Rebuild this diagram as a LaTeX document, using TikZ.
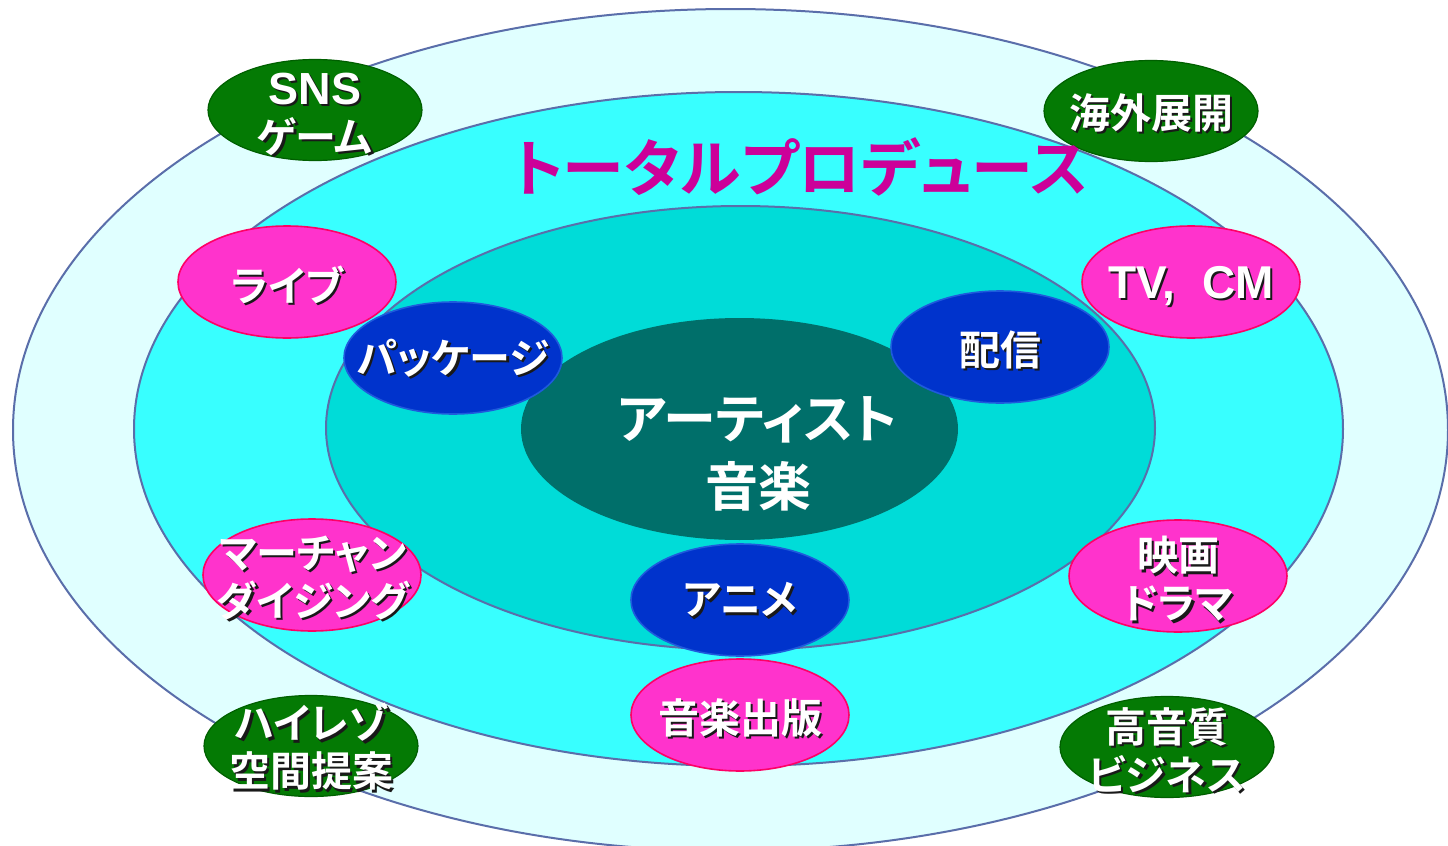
\documentclass[tikz,border=0pt]{standalone}
\usepackage{fontspec}
\usetikzlibrary{shapes.geometric}
\newfontfamily\jp{Noto Sans CJK JP}[BoldFont={Noto Sans CJK JP Bold},RawFeature=+palt]
\newfontfamily\lat{Liberation Sans}
\definecolor{ringc}{RGB}{90,110,170}
\definecolor{cA}{RGB}{224,255,255}
\definecolor{cB}{RGB}{56,255,255}
\definecolor{cC}{RGB}{0,220,216}
\definecolor{cD}{RGB}{0,111,106}
\definecolor{gfill}{RGB}{4,122,4}
\definecolor{gedge}{RGB}{0,95,0}
\definecolor{pfill}{RGB}{255,51,204}
\definecolor{pedge}{RGB}{255,0,102}
\definecolor{bfill}{RGB}{0,51,204}
\definecolor{bedge}{RGB}{30,90,220}
\definecolor{ttlc}{RGB}{204,0,153}
\tikzset{
  ringline/.style={draw=ringc, line width=1pt},
  oval/.style={ellipse, inner sep=0pt},
  greenov/.style={oval, fill=gfill, draw=gedge, line width=0.6pt, minimum width=107pt, minimum height=50.5pt},
  pinkov/.style={oval, fill=pfill, draw=pedge, line width=0.8pt, minimum width=109pt, minimum height=56pt},
  blueov/.style={oval, fill=bfill, draw=bedge, line width=0.8pt, minimum width=109pt, minimum height=56pt},
  lbl/.style={inner sep=0pt, align=center, font=\jp\bfseries\fontsize{20.5pt}{24pt}\selectfont},
  artist/.style={inner sep=0pt, align=center, text=white, font=\jp\bfseries\fontsize{26.5pt}{34pt}\selectfont},
  ttlstyle/.style={inner sep=0pt, text=ttlc, font=\jp\bfseries\fontsize{31pt}{34pt}\selectfont},
}
\newcommand{\shlabel}[3]{%
  \node[lbl,text=black!90,xshift=1.1pt,yshift=-1.1pt] at #2 {#3};
  \node[lbl,text=white] (#1) at #2 {#3};}
\begin{document}
\begin{tikzpicture}[x=0.5pt,y=-0.5pt]
\useasboundingbox (0,0) rectangle (1448,846);
\fill[white] (0,0) rectangle (1448,846);
\clip (0,0) rectangle (1448,846);
% rings
\path[ringline, fill=cA] (730.5,430) ellipse [x radius=358.75pt, y radius=210.5pt];
\path[ringline, fill=cB] (738.5,429) ellipse [x radius=302.25pt, y radius=168.5pt];
\path[ringline, fill=cC] (740.5,428) ellipse [x radius=207.25pt, y radius=111pt];
\fill[cD] (739.5,429) ellipse [x radius=109.25pt, y radius=55.5pt];
% ovals
\node[greenov] (sns) at (315,110) {};
\node[greenov] (kaigai) at (1151,111) {};
\node[greenov] (hires) at (311,746) {};
\node[greenov] (kouon) at (1167,747) {};
\node[pinkov] (live) at (287,282) {};
\node[pinkov] (tvcm) at (1191,282) {};
\node[blueov] (pkg) at (453,358) {};
\node[blueov] (haishin) at (1000,347) {};
\node[pinkov] (mer) at (312,575) {};
\node[pinkov] (eiga) at (1178,576) {};
\node[blueov] (anime) at (740,600) {};
\node[pinkov] (shuppan) at (740,715) {};
% labels
\shlabel{snsT}{(315,114)}{{\lat\fontsize{22.5pt}{24pt}\selectfont SNS}\\ゲーム}
\shlabel{kaigaiT}{(1151,113)}{海外展開}
\shlabel{hiresT}{(311,747)}{ハイレゾ\\空間提案}
\shlabel{kouonT}{(1167,750)}{高音質\\ビジネス}
\shlabel{liveT}{(287,285)}{ライブ}
\shlabel{tvcmT}{(1191,286)}{{\lat\fontsize{23pt}{24pt}\selectfont TV,\hspace{13.5pt}CM}}
\shlabel{pkgT}{(453,358)}{パッケージ}
\shlabel{haishinT}{(1000,350)}{配信}
\shlabel{merT}{(313,578)}{マーチャン\\ダイジング}
\shlabel{eigaT}{(1178,579)}{映画\\ドラマ}
\shlabel{animeT}{(740,600)}{アニメ}
\shlabel{shuppanT}{(740,718)}{音楽出版}
\node[artist] (art) at (758,454) {アーティスト\\音楽};
\node[ttlstyle] (ttl) at (800,167) {トータルプロデュース};
\end{tikzpicture}
\end{document}
